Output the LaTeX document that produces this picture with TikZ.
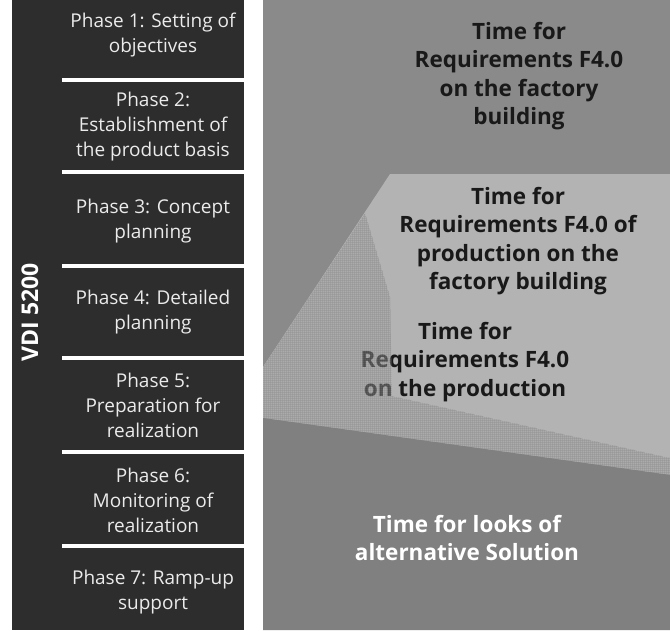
\documentclass[tikz,border=0pt]{standalone}
\usepackage{fontspec}
\setmainfont{Open Sans}
\usetikzlibrary{patterns.meta}

\definecolor{panelgray}{HTML}{2D2D2D}
\definecolor{topgray}{HTML}{8A8A8A}
\definecolor{palegray}{HTML}{B3B3B3}
\definecolor{lowgray}{HTML}{808080}
\definecolor{hatchcell}{HTML}{C8C8C8}
\definecolor{hatchline}{HTML}{5A5A5A}

\tikzset{
  phase/.style={font=\fontsize{19}{25}\selectfont,text=white!92!black,align=center},
  region/.style={font=\fontsize{22.5}{28.5}\selectfont\bfseries,text=black!90,align=center},
  hatched/.style={preaction={fill=hatchcell},
    pattern={Hatch[distance=2pt,line width=0.5pt]},pattern color=hatchline},
}

\begin{document}
\begin{tikzpicture}[x=1pt,y=-1pt]
  \useasboundingbox (0,0) rectangle (670,630);
  % VDI 5200 column
  \fill[panelgray] (12,0) rectangle (244,630);
  \foreach \y in {80,172,266,358,452,546}
    \draw[white,line width=4pt] (62,\y) -- (244,\y);
  \node[rotate=90,font=\fontsize{23}{25}\selectfont\bfseries,text=white] (vdi) at (30,312) {VDI 5200};
  \node[phase] (p1) at (153,35) {Phase 1: Setting of\\objectives};
  \node[phase] (p2) at (153,127) {Phase 2:\\Establishment of\\the product basis};
  \node[phase] (p3) at (153,221) {Phase 3: Concept\\planning};
  \node[phase] (p4) at (153,312) {Phase 4: Detailed\\planning};
  \node[phase] (p5) at (153,405) {Phase 5:\\Preparation for\\realization};
  \node[phase] (p6) at (153,500) {Phase 6:\\Monitoring of\\realization};
  \node[phase] (p7) at (153,592) {Phase 7: Ramp-up\\support};

  % time shares
  \fill[topgray] (263,0) rectangle (670,630);
  \fill[palegray] (263,367) -- (390,174) -- (670,174) -- (670,475) -- (263,418) -- cycle;
  \node[region] (building) at (519,76) {Time for\\Requirements F4.0\\on the factory\\building};
  \node[region] (prodbuilding) at (518,241) {Time for\\Requirements F4.0 of\\production on the\\factory building};
  \node[region] (production) at (465,362) {Time for\\Requirements F4.0\\on the production};
  \begin{scope}[transparency group,opacity=0.5]
    \fill[hatched] (263,367) -- (365,213) -- (390,297) -- (392,396) -- (670,458) -- (670,475) -- (263,418) -- cycle;
  \end{scope}
  \fill[lowgray] (263,418) -- (670,475) -- (670,630) -- (263,630) -- cycle;
  \node[region,text=white] (alternative) at (467,538) {Time for looks of\\alternative Solution};
\end{tikzpicture}
\end{document}
